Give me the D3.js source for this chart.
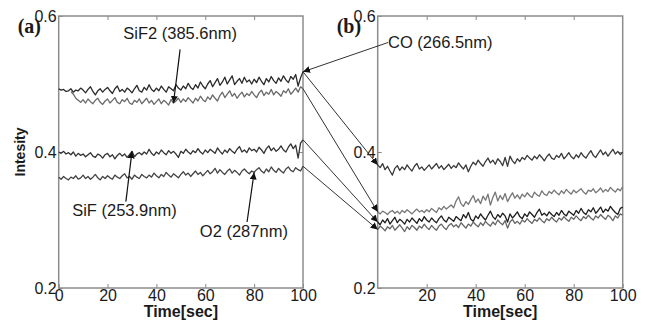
<!DOCTYPE html>
<html>
<head>
<meta charset="utf-8">
<script src="https://cdn.jsdelivr.net/npm/d3@7"></script>
<style>
  body { margin: 0; background: #fff; }
  svg text { font-family: "Liberation Sans", Arial, sans-serif; fill: #1a1a1a; }
  .tick line { stroke: #888; }
</style>
</head>
<body>
<div id="chart"></div>
<script>
// x = sample index in seconds (0..100)
var xTicksA = [0, 20, 40, 60, 80, 100];
var xTicksB = [20, 40, 60, 80, 100];
var yTicks = [0.2, 0.4, 0.6];

// panel (a)
var coA = [0.493,0.491,0.492,0.489,0.490,0.493,0.488,0.491,0.490,0.494,
  0.491,0.487,0.492,0.496,0.489,0.484,0.490,0.493,0.488,0.492,
  0.495,0.490,0.486,0.493,0.497,0.489,0.492,0.488,0.494,0.491,
  0.487,0.493,0.498,0.490,0.488,0.495,0.491,0.499,0.492,0.489,
  0.494,0.490,0.497,0.492,0.488,0.496,0.493,0.490,0.499,0.494,
  0.491,0.497,0.493,0.501,0.495,0.492,0.499,0.494,0.503,0.497,
  0.493,0.500,0.505,0.496,0.502,0.508,0.498,0.503,0.510,0.500,
  0.506,0.512,0.499,0.504,0.508,0.501,0.510,0.503,0.506,0.500,
  0.507,0.502,0.510,0.504,0.499,0.508,0.503,0.511,0.505,0.501,
  0.509,0.504,0.512,0.506,0.502,0.511,0.507,0.514,0.497,0.509,
  0.518];
var sif2A = [null,null,null,null,null,0.489,0.485,0.479,0.476,0.473,
  0.477,0.472,0.478,0.474,0.471,0.476,0.479,0.473,0.470,0.475,
  0.478,0.472,0.476,0.480,0.473,0.471,0.477,0.474,0.479,0.472,
  0.470,0.476,0.473,0.478,0.471,0.475,0.479,0.472,0.476,0.470,
  0.474,0.478,0.471,0.476,0.473,0.469,0.477,0.472,0.475,0.479,
  0.473,0.478,0.474,0.480,0.476,0.472,0.479,0.475,0.482,0.477,
  0.474,0.481,0.477,0.484,0.479,0.475,0.483,0.488,0.480,0.485,
  0.490,0.482,0.486,0.479,0.484,0.488,0.481,0.486,0.483,0.489,
  0.484,0.480,0.487,0.491,0.483,0.488,0.485,0.492,0.484,0.489,
  0.486,0.482,0.490,0.487,0.493,0.485,0.489,0.494,0.488,0.496,
  0.493];
var sifA = [0.400,0.398,0.401,0.397,0.399,0.396,0.400,0.394,0.398,0.395,
  0.397,0.393,0.396,0.399,0.394,0.392,0.397,0.395,0.391,0.396,
  0.398,0.393,0.396,0.390,0.395,0.398,0.394,0.397,0.392,0.396,
  0.401,0.393,0.397,0.399,0.396,0.400,0.397,0.404,0.398,0.395,
  0.400,0.397,0.403,0.399,0.396,0.402,0.398,0.401,0.397,0.392,
  0.401,0.398,0.404,0.400,0.397,0.402,0.399,0.405,0.400,0.397,
  0.403,0.399,0.404,0.401,0.398,0.406,0.401,0.397,0.403,0.399,
  0.405,0.401,0.398,0.404,0.408,0.400,0.403,0.399,0.406,0.402,
  0.404,0.400,0.407,0.403,0.398,0.405,0.409,0.402,0.406,0.401,
  0.404,0.409,0.403,0.400,0.407,0.412,0.405,0.410,0.391,0.413,
  0.418];
var o2A = [0.363,0.360,0.364,0.361,0.359,0.363,0.361,0.365,0.360,0.362,
  0.366,0.361,0.364,0.360,0.363,0.367,0.362,0.359,0.364,0.361,
  0.365,0.362,0.360,0.366,0.363,0.361,0.365,0.368,0.362,0.364,
  0.360,0.366,0.363,0.361,0.367,0.364,0.362,0.366,0.363,0.369,
  0.365,0.362,0.367,0.364,0.370,0.366,0.363,0.368,0.365,0.362,
  0.367,0.371,0.366,0.369,0.364,0.368,0.372,0.367,0.370,0.365,
  0.369,0.373,0.368,0.371,0.376,0.369,0.374,0.370,0.367,0.372,
  0.375,0.369,0.373,0.370,0.366,0.372,0.375,0.371,0.368,0.372,
  0.370,0.374,0.377,0.372,0.369,0.375,0.371,0.378,0.373,0.370,
  0.376,0.372,0.369,0.375,0.378,0.373,0.371,0.377,0.374,0.372,
  0.379];

// panel (b)
var coB = [0.381,0.377,0.383,0.374,0.379,0.372,0.366,0.376,0.380,0.373,
  0.378,0.374,0.381,0.376,0.372,0.379,0.383,0.375,0.378,0.373,
  0.377,0.381,0.375,0.379,0.383,0.376,0.380,0.374,0.378,0.382,
  0.376,0.380,0.377,0.384,0.379,0.375,0.381,0.371,0.379,0.385,
  0.381,0.388,0.383,0.379,0.386,0.391,0.384,0.388,0.382,0.390,
  0.386,0.380,0.392,0.379,0.394,0.387,0.383,0.390,0.386,0.392,
  0.389,0.395,0.391,0.388,0.394,0.390,0.396,0.392,0.387,0.393,
  0.397,0.391,0.389,0.395,0.392,0.398,0.390,0.394,0.399,0.393,
  0.390,0.396,0.392,0.399,0.394,0.391,0.397,0.402,0.395,0.392,
  0.398,0.403,0.396,0.400,0.394,0.399,0.404,0.397,0.401,0.396,
  0.400];
var sif2B = [0.312,0.309,0.313,0.311,0.308,0.312,0.314,0.310,0.313,0.309,
  0.314,0.311,0.315,0.312,0.309,0.313,0.316,0.312,0.314,0.311,
  0.315,0.312,0.317,0.314,0.311,0.318,0.315,0.320,0.316,0.319,
  0.322,0.318,0.328,0.334,0.324,0.320,0.327,0.323,0.330,0.336,
  0.326,0.331,0.324,0.335,0.329,0.338,0.322,0.333,0.341,0.328,
  0.336,0.330,0.339,0.327,0.334,0.340,0.332,0.337,0.331,0.338,
  0.334,0.340,0.336,0.333,0.341,0.337,0.335,0.343,0.338,0.336,
  0.342,0.339,0.344,0.340,0.337,0.343,0.339,0.345,0.341,0.338,
  0.344,0.340,0.343,0.346,0.341,0.338,0.344,0.342,0.346,0.340,
  0.343,0.347,0.341,0.345,0.342,0.348,0.344,0.341,0.346,0.343,
  0.349];
var sifB = [0.297,0.293,0.300,0.296,0.302,0.294,0.299,0.304,0.296,0.301,
  0.298,0.294,0.301,0.297,0.303,0.299,0.295,0.302,0.298,0.305,
  0.300,0.297,0.303,0.299,0.296,0.302,0.306,0.300,0.297,0.304,
  0.301,0.298,0.305,0.302,0.299,0.308,0.303,0.311,0.301,0.298,
  0.306,0.302,0.309,0.304,0.300,0.307,0.313,0.305,0.301,0.308,
  0.304,0.310,0.306,0.297,0.309,0.303,0.307,0.312,0.305,0.302,
  0.309,0.305,0.312,0.308,0.304,0.311,0.316,0.307,0.310,0.306,
  0.312,0.308,0.305,0.311,0.307,0.314,0.309,0.306,0.313,0.310,
  0.307,0.314,0.310,0.317,0.311,0.308,0.315,0.312,0.318,0.310,
  0.314,0.319,0.311,0.316,0.313,0.320,0.315,0.311,0.308,0.317,
  0.319];
var o2B = [0.286,0.291,0.288,0.284,0.290,0.287,0.292,0.285,0.289,0.293,
  0.288,0.283,0.290,0.286,0.292,0.289,0.285,0.291,0.288,0.294,
  0.289,0.286,0.292,0.288,0.285,0.291,0.294,0.289,0.286,0.292,
  0.295,0.290,0.293,0.289,0.296,0.292,0.288,0.294,0.291,0.297,
  0.293,0.290,0.296,0.292,0.298,0.294,0.291,0.297,0.293,0.300,
  0.296,0.293,0.299,0.288,0.297,0.301,0.295,0.298,0.294,0.300,
  0.297,0.302,0.298,0.295,0.301,0.298,0.303,0.299,0.296,0.302,
  0.299,0.304,0.300,0.297,0.303,0.300,0.305,0.301,0.298,0.304,
  0.301,0.306,0.302,0.299,0.305,0.302,0.307,0.303,0.300,0.306,
  0.303,0.308,0.304,0.301,0.307,0.304,0.299,0.306,0.303,0.309,
  0.307];

// labels: [text, series, index the arrow points at, label x, label y, arrow start x, arrow start y]
var labelsA = [
  ['SiF2 (385.6nm)', sif2A, 47, 49.7, 0.566, 49.7, 0.551],
  ['SiF (253.9nm)', sifA, 30, 26.9, 0.306, 27.5, 0.327],
  ['O2 (287nm)', o2A, 80, 75.8, 0.275, 77.1, 0.297]
];
var coLabel = ['CO (266.5nm)', 4.2, 0.553, 4.2, 0.561];

// Chart Setup
var width = 648, height = 325;
var svg = d3.select('#chart')
  .append('svg')
  .attr('width', width)
  .attr('height', height);

var yScale = d3.scaleLinear().domain([0.2, 0.6]).range([288, 16]);
var xA = d3.scaleLinear().domain([0, 100]).range([58.7, 303]);
var xB = d3.scaleLinear().domain([0, 100]).range([377.7, 622.7]);

svg.append('defs').append('marker')
  .attr('id', 'head')
  .attr('viewBox', '0 0 10 10')
  .attr('refX', 10)
  .attr('refY', 5)
  .attr('markerWidth', 7)
  .attr('markerHeight', 7)
  .attr('markerUnits', 'userSpaceOnUse')
  .attr('orient', 'auto')
  .append('path')
  .attr('d', 'M0,0L10,5L0,10z')
  .attr('fill', '#111');

function drawFrame(x, ticks, name) {
  var g = svg.append('g');
  g.append('g')
    .attr('transform', 'translate(0,288)')
    .call(d3.axisBottom(x).tickValues(ticks).tickSize(-4).tickPadding(2))
    .call(function (s) { s.select('.domain').remove(); })
    .selectAll('text').attr('font-size', 16);
  g.append('g')
    .attr('transform', 'translate(0,16)')
    .call(d3.axisTop(x).tickValues([20, 40, 60, 80]).tickSize(-4).tickFormat(''))
    .call(function (s) { s.select('.domain').remove(); });
  g.append('g')
    .attr('transform', 'translate(' + x.range()[0] + ',0)')
    .call(d3.axisLeft(yScale).tickValues(yTicks).tickSize(-4).tickPadding(2).tickFormat(d3.format('.1f')))
    .call(function (s) { s.select('.domain').remove(); })
    .selectAll('text').attr('font-size', 16);
  g.append('g')
    .attr('transform', 'translate(' + x.range()[1] + ',0)')
    .call(d3.axisRight(yScale).tickValues([0.4]).tickSize(-4).tickFormat(''))
    .call(function (s) { s.select('.domain').remove(); });
  g.append('rect')
    .attr('x', x.range()[0])
    .attr('y', 16)
    .attr('width', x.range()[1] - x.range()[0])
    .attr('height', 272)
    .attr('fill', 'none')
    .attr('stroke', '#8c8c8c')
    .attr('stroke-width', 1.5);
  g.append('text')
    .attr('x', (x.range()[0] + x.range()[1]) / 2)
    .attr('y', 317)
    .attr('text-anchor', 'middle')
    .attr('font-size', 16)
    .attr('font-weight', 'bold')
    .text('Time[sec]');
  g.append('text')
    .attr('x', x.range()[0] - 41)
    .attr('y', 33)
    .attr('font-size', 20)
    .attr('font-weight', 'bold')
    .style('font-family', '"Liberation Serif", "Times New Roman", serif')
    .text(name);
}
drawFrame(xA, xTicksA, '(a)');
drawFrame(xB, xTicksB, '(b)');

// Y label
svg.append('text')
  .attr('text-anchor', 'middle')
  .attr('transform', 'translate(25,152)rotate(-90)')
  .attr('font-size', 14)
  .attr('font-weight', 'bold')
  .text('Intesity');

// Lines
function drawLine(x, values, color) {
  var line = d3.line()
    .defined(function (d) { return d != null; })
    .x(function (d, i) { return x(i); })
    .y(function (d) { return yScale(d); });
  svg.append('path')
    .datum(values)
    .attr('d', line)
    .attr('fill', 'none')
    .attr('stroke', color)
    .attr('stroke-width', 1.3)
    .attr('stroke-linejoin', 'round');
}
drawLine(xA, coA, '#2a2a2a');
drawLine(xA, sif2A, '#6a6a6a');
drawLine(xA, sifA, '#333');
drawLine(xA, o2A, '#444');
drawLine(xB, coB, '#3a3a3a');
drawLine(xB, sif2B, '#777');
drawLine(xB, sifB, '#1e1e1e');
drawLine(xB, o2B, '#666');

// Connectors from end of (a) to start of (b)
var pairs = [[coA, coB], [sif2A, sif2B], [sifA, sifB], [o2A, o2B]];
pairs.forEach(function (p) {
  svg.append('line')
    .attr('x1', xA(100))
    .attr('y1', yScale(p[0][100]))
    .attr('x2', xB(0))
    .attr('y2', yScale(p[1][0]))
    .attr('stroke', '#333')
    .attr('stroke-width', 1)
    .attr('marker-end', 'url(#head)');
});

// Annotations
labelsA.forEach(function (l) {
  svg.append('text')
    .attr('x', xA(l[3]))
    .attr('y', yScale(l[4]))
    .attr('text-anchor', 'middle')
    .attr('font-size', 16.5)
    .text(l[0]);
  svg.append('line')
    .attr('x1', xA(l[5]))
    .attr('y1', yScale(l[6]))
    .attr('x2', xA(l[2]))
    .attr('y2', yScale(l[1][l[2]]))
    .attr('stroke', '#111')
    .attr('stroke-width', 1.2)
    .attr('marker-end', 'url(#head)');
});
svg.append('text')
  .attr('x', xB(coLabel[1]))
  .attr('y', yScale(coLabel[2]))
  .attr('font-size', 16.5)
  .text(coLabel[0]);
svg.append('line')
  .attr('x1', xB(coLabel[3]))
  .attr('y1', yScale(coLabel[4]))
  .attr('x2', xA(100))
  .attr('y2', yScale(coA[100]))
  .attr('stroke', '#333')
  .attr('stroke-width', 1)
  .attr('marker-end', 'url(#head)');
</script>
</body>
</html>
